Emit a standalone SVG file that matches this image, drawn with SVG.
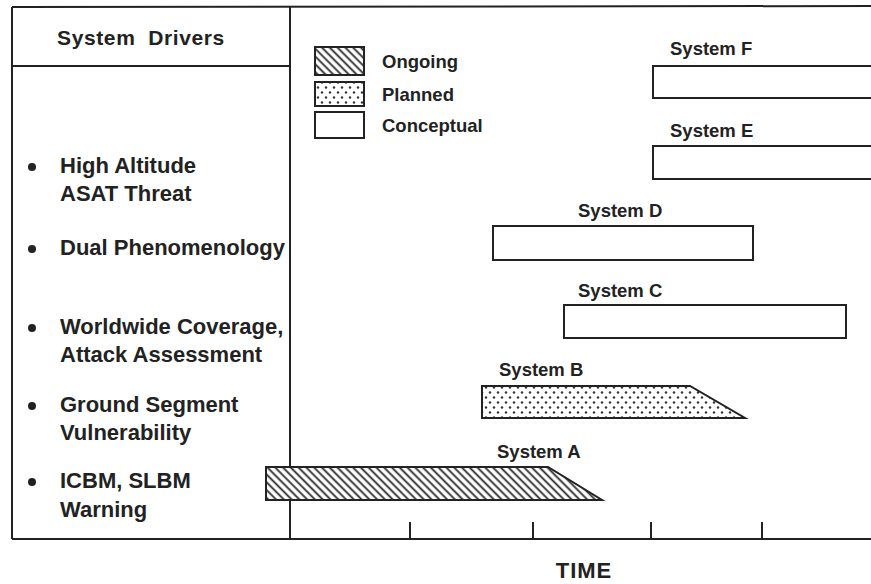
<svg xmlns="http://www.w3.org/2000/svg" width="871" height="584" viewBox="0 0 871 584">
<defs>
<pattern id="hatch" patternUnits="userSpaceOnUse" width="5.5" height="5.5" patternTransform="rotate(-45)">
<rect width="5.5" height="5.5" fill="#fff"/>
<line x1="1.5" y1="0" x2="1.5" y2="5.5" stroke="#2a2a2a" stroke-width="1.8"/>
</pattern>
<pattern id="dots" patternUnits="userSpaceOnUse" width="8" height="10">
<rect width="8" height="10" fill="#fff"/>
<circle cx="2" cy="2.5" r="1.2" fill="#333"/>
<circle cx="6" cy="7.5" r="1.2" fill="#333"/>
</pattern>
<style>
.ln{stroke:#222;stroke-width:2;fill:none}
.bar{stroke:#222;stroke-width:2}
.t{font-family:"Liberation Sans",Arial,sans-serif;font-weight:bold;fill:#222}
.drv{font-size:22px}
.lbl{font-size:18.5px}
</style>
</defs>
<rect width="871" height="584" fill="#fff"/>
<g id="frame">
<line class="ln" x1="12" y1="7" x2="871" y2="6"/>
<line class="ln" x1="12" y1="7" x2="12" y2="539"/>
<line class="ln" x1="12" y1="539" x2="871" y2="539"/>
<line class="ln" x1="290" y1="7" x2="290" y2="539"/>
<line class="ln" x1="12" y1="66" x2="290" y2="66"/>
<line class="ln" x1="410" y1="522" x2="410" y2="539"/>
<line class="ln" x1="533" y1="522" x2="533" y2="539"/>
<line class="ln" x1="651" y1="522" x2="651" y2="539"/>
<line class="ln" x1="762" y1="522" x2="762" y2="539"/>
</g>
<g id="drivers">
<text class="t" x="141" y="45" font-size="21" letter-spacing="0.6" text-anchor="middle" xml:space="preserve">System  Drivers</text>
<circle cx="32" cy="167" r="4" fill="#222"/>
<text class="t drv" x="60" y="173">High Altitude</text>
<text class="t drv" x="60" y="201">ASAT Threat</text>
<circle cx="32" cy="249" r="4" fill="#222"/>
<text class="t drv" x="60" y="255">Dual Phenomenology</text>
<circle cx="32" cy="328" r="4" fill="#222"/>
<text class="t drv" x="60" y="334">Worldwide Coverage,</text>
<text class="t drv" x="60" y="362">Attack Assessment</text>
<circle cx="32" cy="406" r="4" fill="#222"/>
<text class="t drv" x="60" y="412">Ground Segment</text>
<text class="t drv" x="60" y="440">Vulnerability</text>
<circle cx="32" cy="482" r="4" fill="#222"/>
<text class="t drv" x="60" y="488">ICBM, SLBM</text>
<text class="t drv" x="60" y="517">Warning</text>
</g>
<g id="legend">
<rect class="bar" x="315" y="47" width="49" height="28" fill="url(#hatch)"/>
<rect class="bar" x="315" y="82" width="49" height="24" fill="url(#dots)"/>
<rect class="bar" x="315" y="112" width="49" height="26" fill="#fff"/>
<text class="t lbl" x="382" y="68">Ongoing</text>
<text class="t lbl" x="382" y="101">Planned</text>
<text class="t lbl" x="382" y="132">Conceptual</text>
</g>
<g id="systemF">
<rect class="bar" x="653" y="66" width="230" height="32" fill="#fff"/>
<text class="t lbl" x="670" y="55">System F</text>
</g>
<g id="systemE">
<rect class="bar" x="653" y="146" width="230" height="33" fill="#fff"/>
<text class="t lbl" x="670" y="137">System E</text>
</g>
<g id="systemD">
<rect class="bar" x="493" y="226" width="260" height="34" fill="#fff"/>
<text class="t lbl" x="578" y="217">System D</text>
</g>
<g id="systemC">
<rect class="bar" x="564" y="305" width="282" height="33" fill="#fff"/>
<text class="t lbl" x="578" y="297">System C</text>
</g>
<g id="systemB">
<polygon class="bar" points="482,386 690,386 745,418 482,418" fill="url(#dots)"/>
<text class="t lbl" x="499" y="376">System B</text>
</g>
<g id="systemA">
<polygon class="bar" points="266,467 548,467 602,500 266,500" fill="url(#hatch)"/>
<text class="t lbl" x="497" y="458">System A</text>
</g>
<g id="axis">
<text class="t" x="584" y="578" font-size="22" letter-spacing="1" text-anchor="middle">TIME</text>
</g>
</svg>
